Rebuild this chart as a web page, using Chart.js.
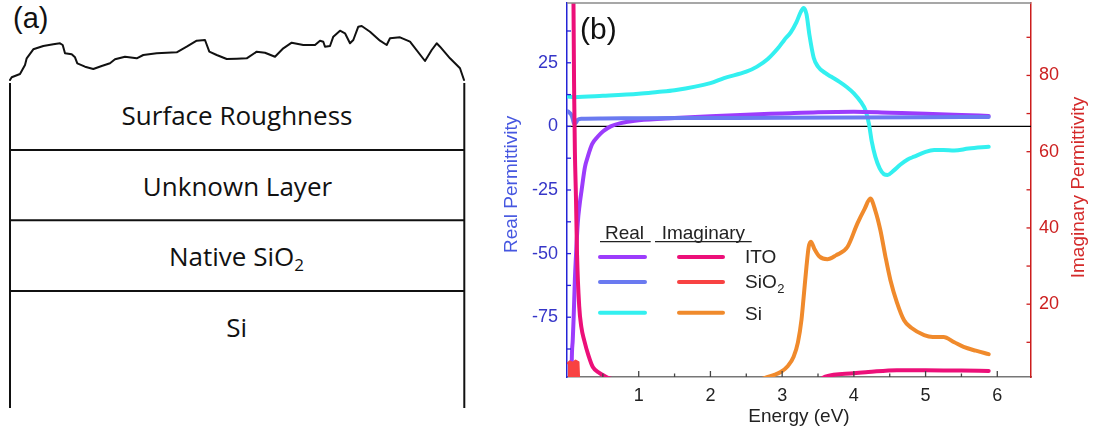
<!DOCTYPE html>
<html><head><meta charset="utf-8">
<script src="https://cdn.jsdelivr.net/npm/chart.js@4.4.0/dist/chart.umd.min.js"></script>
<style>
html,body{margin:0;padding:0;background:#fff;}
#wrap{position:relative;width:1098px;height:434px;overflow:hidden;background:#fff;}
#panelA{position:absolute;left:0;top:0;width:490px;height:434px;}
#cb{position:absolute;left:490px;top:0;width:608px;height:434px;}
</style></head><body>
<div id="wrap">
 <svg id="panelA" width="490" height="434" xmlns="http://www.w3.org/2000/svg">
  <polyline fill="none" stroke="#111" stroke-width="2" stroke-linejoin="round" stroke-linecap="round"
   points="10,80 11.7,77.3 20,74 25,65 26.7,58.3 33.3,49.3 43.3,46 53.3,44.3 60,43.3 62.7,45 65,53.3 71.7,54.3 75,57.3 77.3,63.3 85,66.7 93.3,69 101.7,66 110,63.3 115,59.3 125,56.7 136.7,58.3 143.3,55 156.7,53.3 176.7,52.3 186.7,46.7 196.7,40.7 205,40 209.3,51.7 216.7,55 226.7,59 236.7,58.7 246.7,58.3 256.7,51.7 265,52.7 275,56.7 283.3,48.3 291.7,42.7 303.3,45 315,45 320,40.7 323.3,41.7 325,46.7 330,46 333.3,36.7 340,30.7 345,33.3 350,43.3 353.3,40 358.3,26.7 361.7,26 370,31.7 380,40.7 386.7,45 390,38.3 400,37.3 410,41.7 425,61 431.7,50 436.7,43.3 440,46.7 450,58.3 460,68.3 461.7,73.3 464,80"/>
  <g stroke="#111" stroke-width="2">
   <line x1="10" y1="83" x2="10" y2="408"/>
   <line x1="464.3" y1="83" x2="464.3" y2="408"/>
   <line x1="10" y1="150" x2="464.3" y2="150"/>
   <line x1="10" y1="220.3" x2="464.3" y2="220.3"/>
   <line x1="10" y1="291" x2="464.3" y2="291"/>
  </g>
  <text x="13" y="28" font-family="Liberation Sans" font-size="29" fill="#111">(a)</text>
  <g font-family="Open Sans" font-size="26" fill="#111" text-anchor="middle">
   <text x="237" y="125">Surface Roughness</text>
   <text x="237.5" y="196">Unknown Layer</text>
   <text x="236.5" y="266">Native SiO<tspan font-size="17" dy="5">2</tspan></text>
   <text x="236.7" y="336.7">Si</text>
  </g>
 </svg>
 <div id="cb"><canvas id="c" width="608" height="434"></canvas></div>
</div>
<script>
// ---------- data ----------
const itoReE = [0.06,0.066,0.08,0.093,0.11,0.125,0.15,0.175,0.204,0.25,0.29,0.35,0.43,0.5,0.61,0.75,0.87,1.0,1.5,2.0,2.5,3.0,3.5,4.0,4.5,5.0,5.5,5.88];
const itoReV = [-110,-93,-84,-75,-60,-51,-38,-31,-25,-16,-11.9,-7,-4,-2,0,1.3,1.9,2.4,3.3,4.0,4.6,5.1,5.6,5.8,5.4,5.0,4.5,4.1];

const sio2ReE = [0.005,0.03,0.06,0.08,0.1,0.125,0.15,0.2,0.5,1,2,3,4,5,5.88];
const sio2ReV = [6,5.5,4.5,3,1.0,1.5,2.6,3.0,3.1,3.2,3.3,3.4,3.5,3.6,3.7];

const siReE = [0.005,0.1,0.5,1.0,1.26,1.5,2.0,2.19,2.5,2.65,2.8,2.95,3.03,3.12,3.2,3.26,3.3,3.34,3.38,3.44,3.5,3.6,3.68,3.8,3.9,4.0,4.1,4.16,4.21,4.25,4.3,4.36,4.42,4.47,4.55,4.65,4.75,4.84,5.0,5.12,5.25,5.4,5.6,5.88];
const siReV = [11.7,11.5,12.0,12.8,13.5,14.2,17.0,19.0,21.5,23.5,26.5,31,34,37,41,45,46.5,44,36,27,23.5,21,19.6,17.5,15.5,13,9.5,6.5,1,-6,-12,-16.5,-18.8,-19.1,-17.5,-15,-13,-11.9,-10,-9.3,-9.3,-9.5,-8.7,-8.0];

const itoImE = [0.08,0.09,0.1,0.11,0.125,0.14,0.17,0.2,0.24,0.3,0.36,0.45,0.52,0.6,0.8,1.0,2.0,3.0,3.5,3.6,4.0,4.2,4.6,5.0,5.5,5.88];
const itoImV = [160,100,75,60,48,33,19.5,14,10.5,6.5,3.5,2,1.2,0.5,0.1,0,0,0,0,1,1.9,2.2,2.7,2.7,2.6,2.5];

const sio2ImE = [0.01,0.04,0.08,0.12,0.16,0.17,0.3,1,3,5.88];
const sio2ImV = [4.5,5.0,4.6,5.2,4.8,0,0,0,0,0];

const siImE = [0,1.0,2.5,2.65,2.78,2.9,2.98,3.08,3.16,3.22,3.27,3.30,3.34,3.37,3.40,3.45,3.52,3.63,3.75,3.91,4.05,4.15,4.23,4.3,4.37,4.44,4.51,4.6,4.70,4.8,4.98,5.1,5.25,5.4,5.53,5.7,5.88];
const siImV = [0,0,0,0,0.8,1.5,2.2,3.8,6.2,10,16,21.9,30,35,36.4,34.5,32.5,31.8,32.8,35,41.2,45,47.7,44.5,39.4,32.5,26.3,20.5,15.8,13.8,11.9,11.4,11.4,10,8.8,7.8,6.9];

// ---------- ticks ----------
const xTicks = [1,2,3,4,5,6];
const xMinorTicks = [0.5,1.5,2.5,3.5,4.5,5.5];
const yTicks = [-75,-50,-25,0,25];
const yMinorTicks = [-87.5,-62.5,-37.5,-12.5,12.5,37.5];
const y2Ticks = [20,40,60,80];
const y2MinorTicks = [10,30,50,70,90];

const legendRows = ['ITO','SiO','Si'];

const pts = (xs, ys) => xs.map((x, i) => ({x, y: ys[i]}));
const ds = (label, xs, ys, color, axis, extra) => Object.assign({
  label, data: pts(xs, ys), borderColor: color, backgroundColor: color, yAxisID: axis,
  borderWidth: 4, pointRadius: 0, cubicInterpolationMode: 'monotone', clip: 0, fill: false,
  borderCapStyle: 'round', borderJoinStyle: 'round'
}, extra || {});

const C = {
  itoRe: '#9c3cfc', sio2Re: '#6a7af0', siRe: '#33f0f0',
  itoIm: '#ec1079', sio2Im: '#f84242', siIm: '#f08a2c'
};

const F = 'Liberation Sans';
const px = v => v - 490;

const deco = {
  id: 'deco',
  beforeDatasetsDraw(chart) {
    const {ctx, chartArea: a, scales: {y}} = chart;
    const py = y.getPixelForValue(0);
    ctx.save();
    ctx.strokeStyle = '#000'; ctx.lineWidth = 1.2;
    ctx.beginPath(); ctx.moveTo(a.left, py); ctx.lineTo(a.right, py); ctx.stroke();
    ctx.restore();
  },
  afterDraw(chart) {
    const {ctx, chartArea: a, scales: {x, y, y2}} = chart;
    const line = (x1, y1, x2, y2_) => { ctx.beginPath(); ctx.moveTo(x1, y1); ctx.lineTo(x2, y2_); ctx.stroke(); };
    ctx.save();
    // top border
    ctx.strokeStyle = '#8a8a8a'; ctx.lineWidth = 1.5;
    line(a.left, a.top, a.right, a.top);
    // x inner ticks
    ctx.strokeStyle = '#444'; ctx.lineWidth = 1.3;
    xTicks.forEach(v => { const p = x.getPixelForValue(v); line(p, a.bottom, p, a.bottom - 6); });
    xMinorTicks.forEach(v => { const p = x.getPixelForValue(v); line(p, a.bottom, p, a.bottom - 3.5); });
    // left ticks
    ctx.strokeStyle = '#2424d6';
    yTicks.concat(yMinorTicks).forEach(v => { const p = y.getPixelForValue(v); line(a.left, p, a.left + 4, p); });
    // right ticks
    ctx.strokeStyle = '#cc1c1c';
    y2Ticks.concat(y2MinorTicks).forEach(v => { const p = y2.getPixelForValue(v); line(a.right, p, a.right - 4.5, p); });

    // axis titles
    ctx.font = '19px "' + F + '"';
    ctx.textAlign = 'center'; ctx.textBaseline = 'alphabetic';
    ctx.save(); ctx.translate(px(516.7), 184.4); ctx.rotate(-Math.PI / 2);
    ctx.fillStyle = '#4657e0'; ctx.fillText('Real Permittivity', 0, 0); ctx.restore();
    ctx.save(); ctx.translate(px(1084), 187.5); ctx.rotate(-Math.PI / 2);
    ctx.fillStyle = '#d42a2a'; ctx.fillText('Imaginary Permittivity', 0, 0); ctx.restore();
    ctx.fillStyle = '#222';
    ctx.fillText('Energy (eV)', (a.left + a.right) / 2, 422);

    // panel label
    ctx.textAlign = 'left';
    ctx.font = '30px "' + F + '"'; ctx.fillStyle = '#111';
    ctx.fillText('(b)', px(580), 39);

    // legend
    ctx.font = '19px "' + F + '"'; ctx.fillStyle = '#222';
    ctx.fillText('Real', px(605), 239.3);
    ctx.fillText('Imaginary', px(661.7), 239.3);
    ctx.strokeStyle = '#222'; ctx.lineWidth = 1.3;
    line(px(600), 241.7, px(650.7), 241.7);
    line(px(655), 241.7, px(751.7), 241.7);
    const rowsY = [257, 282, 312.7];
    const reCols = [C.itoRe, C.sio2Re, C.siRe];
    const imCols = [C.itoIm, C.sio2Im, C.siIm];
    const baseY = [263.3, 288.3, 320];
    ctx.lineWidth = 4; ctx.lineCap = 'round';
    rowsY.forEach((ry, i) => {
      ctx.strokeStyle = reCols[i]; line(px(600), ry, px(645), ry);
      ctx.strokeStyle = imCols[i]; line(px(679), ry, px(723), ry);
      ctx.fillStyle = '#222'; ctx.font = '19px "' + F + '"';
      ctx.fillText(legendRows[i], px(745), baseY[i]);
      if (i === 1) {
        const w = ctx.measureText(legendRows[i]).width;
        ctx.font = '13px "' + F + '"';
        ctx.fillText('2', px(745) + w + 0.5, baseY[i] + 5);
      }
    });
    ctx.restore();
  }
};

new Chart(document.getElementById('c'), {
  type: 'line',
  data: {
    datasets: [
      ds('SiO2 imaginary', sio2ImE, sio2ImV, C.sio2Im, 'y2', {cubicInterpolationMode: 'default', tension: 0, fill: 'start', borderWidth: 2}),
      ds('ITO imaginary', itoImE, itoImV, C.itoIm, 'y2'),
      ds('Si imaginary', siImE, siImV, C.siIm, 'y2'),
      ds('SiO2 real', sio2ReE, sio2ReV, C.sio2Re, 'y'),
      ds('ITO real', itoReE, itoReV, C.itoRe, 'y'),
      ds('Si real', siReE, siReV, C.siRe, 'y')
    ]
  },
  options: {
    responsive: false, animation: false, devicePixelRatio: 1,
    layout: {padding: {top: 3, left: 0, right: 0, bottom: 0}},
    plugins: {legend: {display: false}, tooltip: {enabled: false}},
    scales: {
      x: {
        type: 'linear', position: 'bottom', min: 0, max: 6.47,
        afterFit(s) { s.height = 57; s.paddingLeft = 0; s.paddingRight = 0; },
        afterBuildTicks(s) { s.ticks = xTicks.map(v => ({value: v})); },
        grid: {display: false, drawTicks: false},
        border: {display: true, color: '#777', width: 1.5},
        ticks: {padding: 8, color: '#222', font: {family: F, size: 18}, maxRotation: 0, autoSkip: false}
      },
      y: {
        type: 'linear', position: 'left', min: -98.5, max: 48.5,
        afterFit(s) { s.width = 77; s.paddingTop = 0; s.paddingBottom = 0; },
        afterBuildTicks(s) { s.ticks = yTicks.map(v => ({value: v})); },
        grid: {display: false, drawTicks: false},
        border: {display: true, color: '#2424d6', width: 1.5},
        ticks: {padding: 9, color: '#3636c8', font: {family: F, size: 18}, autoSkip: false}
      },
      y2: {
        type: 'linear', position: 'right', min: 0.9, max: 99,
        afterFit(s) { s.width = 67; s.paddingTop = 0; s.paddingBottom = 0; },
        afterBuildTicks(s) { s.ticks = y2Ticks.map(v => ({value: v})); },
        grid: {display: false, drawTicks: false},
        border: {display: true, color: '#cc1c1c', width: 1.5},
        ticks: {padding: 8, color: '#cc2020', font: {family: F, size: 18}, autoSkip: false}
      }
    }
  },
  plugins: [deco]
});
</script>
</body></html>
